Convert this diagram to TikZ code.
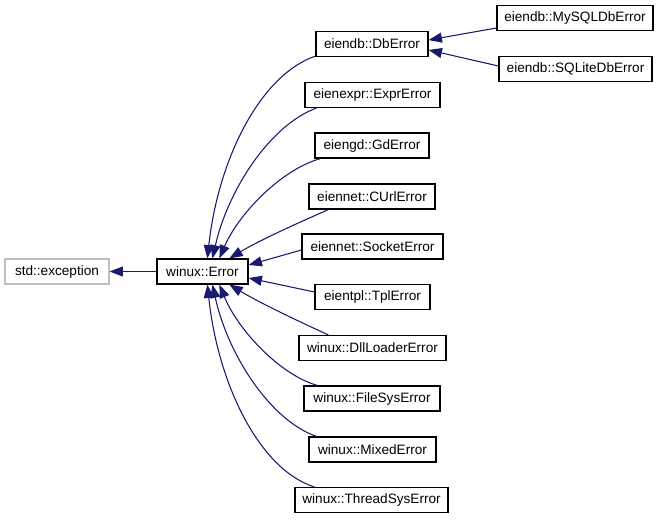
\documentclass[tikz,border=0pt]{standalone}
\usepackage{fontspec}
\setmainfont{Liberation Sans}
\usetikzlibrary{arrows.meta,calc}
\definecolor{edgeblue}{RGB}{25,25,112}
\definecolor{boxgray}{RGB}{191,191,191}
\tikzset{
  cls/.style={draw=black, line width=0.9pt, fill=white, minimum height=25*0.75pt, inner sep=0pt, font=\fontsize{10.2}{12}\selectfont, text=black},
  ext/.style={cls, draw=boxgray},
  inh/.style={draw=edgeblue, line width=0.8pt, {Triangle[length=10pt,width=7.5pt,fill=edgeblue]}-},
}
\begin{document}
\begin{tikzpicture}[x=0.75pt,y=-0.75pt]
\useasboundingbox (0,0) rectangle (659,519);
\node[ext, minimum width=104*0.75pt] (exc) at (57,271.5) {std::exception};
\node[cls, minimum width=91*0.75pt] (err) at (202.5,271.5) {winux::Error};
\node[cls, minimum width=112*0.75pt] (db) at (372,44) {eiendb::DbError};
\node[cls, minimum width=156*0.75pt] (my) at (575,18) {eiendb::MySQLDbError};
\node[cls, minimum width=153*0.75pt] (sq) at (575.5,69) {eiendb::SQLiteDbError};
\node[cls, minimum width=135*0.75pt] (expr) at (372.5,95) {eienexpr::ExprError};
\node[cls, minimum width=114*0.75pt] (gd) at (372,145.5) {eiengd::GdError};
\node[cls, minimum width=126*0.75pt] (curl) at (372,196.5) {eiennet::CUrlError};
\node[cls, minimum width=141*0.75pt] (sock) at (372.5,246.5) {eiennet::SocketError};
\node[cls, minimum width=115*0.75pt] (tpl) at (372.5,297) {eientpl::TplError};
\node[cls, minimum width=147*0.75pt] (dll) at (372.5,348) {winux::DllLoaderError};
\node[cls, minimum width=136*0.75pt] (fs) at (372,398.5) {winux::FileSysError};
\node[cls, minimum width=127*0.75pt] (mix) at (372.5,449.5) {winux::MixedError};
\node[cls, minimum width=153*0.75pt] (thr) at (371.5,500) {winux::ThreadSysError};

\draw[inh] (exc.east) -- (err.west);
\draw[inh] (db.east |- 0,40) -- (my.west |- 0,28);
\draw[inh] (db.east |- 0,50) -- (sq.west |- 0,66);
\draw[inh] (err.north east |- 0,265) -- (sock.west |- 0,250);
\draw[inh] (err.north east |- 0,278) -- (tpl.west |- 0,292);
\draw[inh] ($(err.north west)+(51,0)$) .. controls (218,160) and (260,75) .. ($(db.south west)+(0,-1)$);
\draw[inh] ($(err.north west)+(56,0)$) .. controls (228,190) and (270,125) .. ($(expr.south west)+(12,0)$);
\draw[inh] ($(err.north west)+(63,0)$) .. controls (238,215) and (280,170) .. ($(gd.south west)+(6,0)$);
\draw[inh] ($(err.north west)+(73,0)$) .. controls (260,240) and (300,222) .. ($(curl.south west)+(20,0)$);
\draw[inh] ($(err.south west)+(73,0)$) .. controls (260,303) and (300,322) .. ($(dll.north west)+(30,0)$);
\draw[inh] ($(err.south west)+(63,0)$) .. controls (238,330) and (280,375) .. ($(fs.north west)+(14,0)$);
\draw[inh] ($(err.south west)+(56,0)$) .. controls (228,355) and (270,420) .. ($(mix.north west)+(8,0)$);
\draw[inh] ($(err.south west)+(51,0)$) .. controls (218,385) and (260,470) .. ($(thr.north west)+(20,0)$);
\end{tikzpicture}
\end{document}
